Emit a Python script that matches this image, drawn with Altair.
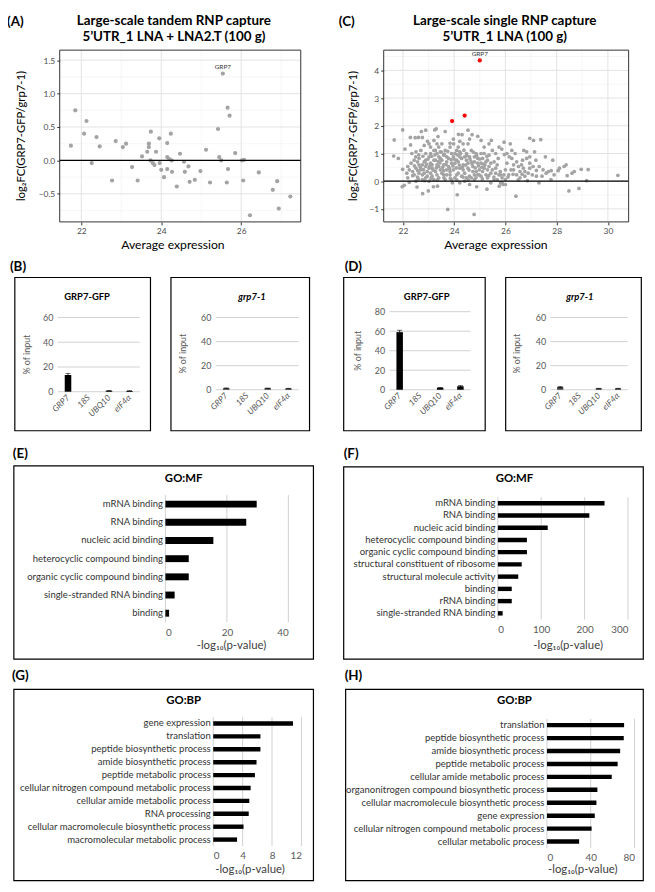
import altair as alt
import pandas as pd

# ---------------- data ----------------
A_X = [21.74, 21.85, 22.13, 22.07, 22.26, 22.38, 22.46, 22.77, 22.86, 23.04, 23.12, 23.27, 23.41,
       23.52, 23.65, 23.69, 23.69, 23.74, 23.73, 23.79, 23.83, 23.87, 23.95, 23.96, 24.00, 24.07,
       24.15, 24.15, 24.15, 24.20, 24.24, 24.26, 24.27, 24.39, 24.47, 24.57, 24.59, 24.68, 24.71,
       24.84, 24.98, 25.12, 25.22, 25.42, 25.54, 25.45, 25.50, 25.66, 25.71, 25.67, 25.64, 25.85,
       26.02, 26.07, 26.05, 26.22, 26.44, 26.79, 26.90, 26.94, 27.23]
A_Y = [0.22, 0.75, 0.59, 0.40, -0.04, 0.35, 0.21, -0.30, 0.29, 0.20, 0.25, -0.10, -0.30,
       0.06, 0.13, 0.25, 0.20, 0.43, 0.00, -0.04, -0.07, 0.13, 0.33, -0.04, -0.14, -0.25,
       0.26, 0.05, -0.13, 0.02, 0.40, 0.00, -0.17, -0.39, 0.10, -0.02, -0.17, -0.09, -0.32,
       -0.29, -0.16, 0.16, -0.33, 0.47, 1.30, 0.05, 0.00, 0.79, 0.67, -0.13, -0.33, 0.11,
       0.00, 0.01, -0.30, -0.82, -0.18, -0.44, -0.31, -0.72, -0.54]
A_LABEL_T = ["GRP7"]
A_LABEL_X = [25.54]
A_LABEL_Y = [1.30]

C_POINTS = [
    (21.66, 1.49), (21.99, 1.85), (21.64, 0.91), (21.82, 0.82), (21.99, 0.43), (21.97, -0.20),
    (22.05, -0.15), (22.08, 1.16), (22.29, 1.58), (22.30, 1.31), (22.48, 1.57), (22.61, 1.58),
    (22.72, 1.79), (22.89, 1.84), (22.76, 1.58), (22.96, 1.44), (23.30, 1.89), (23.24, 1.85),
    (23.65, 1.79), (23.37, 1.61), (22.55, -0.21), (22.77, -0.45), (22.99, -0.35), (23.19, -0.20),
    (23.35, -0.18), (23.75, -1.02), (24.12, -0.49), (24.78, -1.20), (24.88, -0.20), (25.28, -0.29),
    (26.41, -0.54), (24.54, 1.84), (24.70, 1.68), (24.92, 1.62), (24.17, 1.69), (24.31, 1.68),
    (24.22, 1.44), (23.98, 1.35), (23.84, 1.37), (25.45, 1.47), (25.36, 1.35), (25.17, 1.23),
    (25.95, 1.41), (26.19, 1.35), (25.86, 1.16), (25.96, 0.96), (26.95, 1.55), (27.10, 1.47),
    (27.38, 1.50), (26.72, 1.11), (26.83, 1.06), (27.14, 1.06), (27.56, 0.88), (27.85, 0.76),
    (26.95, 0.88), (26.67, 0.76), (27.19, 0.76), (27.32, 0.53), (27.47, 0.41), (27.68, 0.35),
    (27.79, 0.38), (27.78, 0.06), (28.06, 0.38), (28.11, 0.47), (28.29, 0.53), (28.37, 0.59),
    (28.41, 0.20), (28.48, -0.35), (28.60, 0.29), (28.69, 0.35), (28.87, -0.26), (28.96, 0.43),
    (29.17, 0.02), (29.23, 0.42), (30.39, 0.21), (26.86, 0.02), (26.57, 0.12), (26.32, 0.41),
    (26.44, 0.70), (26.95, 0.65), (27.21, 0.39), (27.05, 0.23), (26.89, 0.29), (26.76, 0.18),
    (27.31, -0.06), (27.43, 0.18), (25.91, -0.12), (25.81, -0.06), (25.76, -0.18), (26.00, 0.06),
    (26.13, 0.23), (26.22, 0.41), (26.06, 0.65), (26.15, 0.88), (25.72, 0.82), (25.56, 0.70),
    (25.62, 0.47), (25.43, 0.29), (25.30, 0.12), (25.05, 0.18), (25.17, 0.47), (25.11, 0.82),
    (24.79, 0.88), (24.67, 1.11), (24.48, 1.00), (24.29, 0.82), (24.35, 0.59), (24.54, 0.47),
    (24.73, 0.35), (24.92, 0.23), (24.16, 0.29), (24.03, 0.12), (23.93, -0.06), (23.84, 0.23),
    (23.71, 0.41), (23.59, 0.59), (23.46, 0.82), (23.33, 1.00), (23.21, 1.11), (23.08, 1.23),
    (23.02, 0.88), (22.89, 1.00), (22.83, 0.70), (22.63, 0.59), (22.51, 0.47), (22.38, 0.35),
    (22.25, 0.41), (22.15, 0.29), (22.19, 0.12), (22.38, 0.20), (22.57, 0.15), (22.76, 0.23),
    (22.95, 0.35), (23.14, 0.47), (23.33, 0.59), (23.52, 0.76), (23.71, 0.88), (23.90, 1.00),
    (24.10, 1.11), (23.14, 0.18), (23.40, 0.12), (23.65, 0.06), (23.02, 0.00), (23.27, 0.35),
    (23.52, 0.29), (23.78, 0.53), (24.03, 0.65), (24.22, 0.47), (24.41, 0.29), (24.60, 0.18),
    (24.79, 0.06), (24.98, 0.41), (25.05, 0.65), (25.24, 0.70), (25.36, 0.94), (25.49, 1.11),
    (24.67, 0.70), (24.48, 0.76), (24.35, 1.35), (24.16, 1.23), (23.97, 1.52), (23.52, 1.35),
    (23.40, 1.23), (23.21, 1.47), (23.02, 1.35), (22.83, 1.29), (22.70, 1.11), (22.51, 1.06),
    (22.35, 1.00), (22.44, 0.76), (22.63, 0.82), (22.89, 0.53), (23.08, 0.65), (23.21, 0.76),
    (23.40, 0.53), (23.59, 0.38), (24.41, 0.00), (24.22, -0.06), (24.60, -0.12), (23.90, 0.06),
    (22.76, 0.06), (22.51, 0.00), (22.25, -0.04), (25.75, 0.23), (25.87, 0.12), (25.56, 0.06),
    (25.43, -0.06), (26.44, 0.23), (26.57, 0.35), (26.70, 0.47), (26.83, 0.82), (26.38, 1.00),
    (26.25, 1.11), (26.00, 0.41), (25.68, 0.59), (25.30, 0.41), (24.92, 0.65), (24.86, 1.00),
    (25.05, 1.47), (24.22, 0.88), (24.10, 0.76), (23.90, 0.65), (23.71, 0.70), (23.84, 1.23),
    (23.65, 1.11), (24.54, 1.35), (24.60, 1.52), (25.17, 1.00),
    (22.70, 0.41), (22.83, 0.29), (22.95, 0.18), (23.08, 0.29), (23.21, 0.06), (23.33, 0.23),
    (23.46, 0.41), (23.59, 0.23), (23.71, 0.23), (23.02, 0.47), (23.14, 0.59), (23.27, 0.76),
    (23.40, 0.88), (23.59, 0.94), (23.78, 0.82), (23.97, 0.88), (24.16, 0.70), (24.35, 0.41),
    (24.54, 0.65), (24.73, 0.53), (24.86, 0.35), (24.98, 0.23), (25.11, 0.35), (25.24, 0.23),
    (25.36, 0.53), (25.49, 0.41), (25.62, 0.29), (25.68, 0.06), (25.81, 0.23), (25.94, 0.23),
    (26.00, -0.12), (25.87, -0.06), (24.79, 0.23), (24.67, 0.12), (24.48, 0.12), (24.29, 0.18),
    (24.10, 0.23), (23.97, 0.41), (23.84, 0.35), (22.89, 0.76), (22.76, 0.59), (22.57, 0.70),
    (22.32, 0.65), (22.19, 0.53), (22.44, 0.23), (22.63, 0.29), (22.89, 0.12), (23.08, 1.00),
    (23.27, 1.11), (23.46, 1.06), (23.33, 1.35), (24.03, 1.00), (24.22, 1.06), (24.41, 0.88),
    (24.60, 0.88), (24.79, 0.70), (24.92, 0.82), (25.05, 1.00), (25.30, 0.76), (25.43, 0.65),
    (25.62, 1.00), (25.75, 1.23), (26.06, 1.00), (26.25, 0.82), (26.32, 0.59), (26.51, 0.53),
    (26.63, 0.59), (26.76, 0.35), (26.95, 0.47), (27.08, 0.53), (27.21, 0.18), (27.59, 0.29),
    (27.90, 0.23),
    (22.45, 0.55), (22.58, 0.38), (22.68, 0.50), (22.80, 0.42), (22.92, 0.62), (23.05, 0.55),
    (23.18, 0.40), (23.30, 0.48), (23.44, 0.66), (23.55, 0.50), (23.68, 0.60), (23.82, 0.45),
    (23.95, 0.55), (24.08, 0.48), (24.20, 0.58), (24.32, 0.50), (24.45, 0.58), (24.58, 0.40),
    (24.70, 0.62), (24.82, 0.48), (24.95, 0.55), (25.08, 0.50), (25.20, 0.58), (22.50, 0.88),
    (22.62, 0.95), (22.78, 0.90), (22.98, 0.80), (23.12, 0.90), (23.25, 0.95), (23.38, 0.72),
    (23.50, 1.05), (23.62, 0.98), (23.75, 1.08), (23.88, 0.78), (24.00, 0.80), (24.12, 0.95),
    (24.25, 1.00), (24.38, 1.12), (24.50, 0.92), (24.62, 0.80), (24.75, 1.05), (24.88, 0.92),
    (25.00, 0.80), (25.15, 0.62), (25.28, 0.90), (22.60, 0.08), (22.85, 0.02), (23.10, 0.10),
    (23.35, 0.05), (23.60, 0.12), (23.85, 0.10), (24.10, 0.05), (24.35, 0.15), (24.55, 0.05),
    (24.85, 0.12), (25.10, 0.08), (25.35, 0.20), (25.55, 0.15), (25.80, 0.35), (26.10, 0.15),
    (26.30, 0.25), (26.50, 0.05), (26.65, 0.25),
]
C_HI_X = [25.00, 23.92, 24.41]
C_HI_Y = [4.36, 2.17, 2.37]
C_LABEL_T = ["GRP7"]
C_LABEL_X = [25.00]
C_LABEL_Y = [4.36]

QPCR_TARGETS = ["GRP7", "18S", "UBQ10", "eIF4\u03b1"]
B_GFP = [13.5, 0.0, 0.7, 0.6]
B_GFP_ERR = [1.3, 0.0, 0.2, 0.2]
B_MUT = [1.2, 0.0, 1.2, 1.0]
B_MUT_ERR = [0.3, 0.0, 0.2, 0.2]
D_GFP = [59.0, 0.0, 2.0, 3.5]
D_GFP_ERR = [2.0, 0.0, 0.4, 0.7]
D_MUT = [2.2, 0.0, 1.0, 1.0]
D_MUT_ERR = [0.4, 0.0, 0.2, 0.2]

E_TERMS = ["mRNA binding", "RNA binding", "nucleic acid binding", "heterocyclic compound binding",
           "organic cyclic compound binding", "single-stranded RNA binding", "binding"]
E_VALS = [29.7, 26.3, 15.6, 7.6, 7.6, 3.0, 1.2]
F_TERMS = ["mRNA binding", "RNA binding", "nucleic acid binding", "heterocyclic compound binding",
           "organic cyclic compound binding", "structural constituent of ribosome",
           "structural molecule activity", "binding", "rRNA binding", "single-stranded RNA binding"]
F_VALS = [246, 211, 115, 67, 67, 55, 47, 32, 32, 11]
G_TERMS = ["gene expression", "translation", "peptide biosynthetic process", "amide biosynthetic process",
           "peptide metabolic process", "cellular nitrogen compound metabolic process",
           "cellular amide metabolic process", "RNA processing",
           "cellular macromolecule biosynthetic process", "macromolecular metabolic process"]
G_VALS = [10.85, 6.42, 6.42, 5.89, 5.67, 5.09, 4.91, 4.83, 4.12, 3.24]
H_TERMS = ["translation", "peptide biosynthetic process", "amide biosynthetic process",
           "peptide metabolic process", "cellular amide metabolic process",
           "organonitrogen compound biosynthetic process", "cellular macromolecule biosynthetic process",
           "gene expression", "cellular nitrogen compound metabolic process", "cellular metabolic process"]
H_VALS = [70.5, 70.2, 66.9, 64.6, 59.2, 46.1, 45.2, 43.7, 40.8, 29.4]

# ---------------- layout ----------------
W, H = 645, 882
S = 0.985
FONT = "Lato"


def X(r):
    return round((r - 2) * S, 2)


def Y(r):
    return round(r * S, 2)


def one():
    return pd.DataFrame({"k": [0]})


def txt(s, rx, ry, size, weight="normal", style="normal", align="center", angle=0,
        color="black", baseline="alphabetic"):
    return alt.Chart(pd.DataFrame({"t": [s]})).mark_text(
        font=FONT, fontSize=size, fontWeight=weight, fontStyle=style, align=align,
        baseline=baseline, angle=angle, color=color
    ).encode(x=alt.value(X(rx)), y=alt.value(Y(ry)), text="t:N")


def frame(l, t, r, b, color="black", width=1.2):
    return alt.Chart(one()).mark_rect(filled=False, stroke=color, strokeWidth=width).encode(
        x=alt.value(X(l)), x2=alt.value(X(r)), y=alt.value(Y(t)), y2=alt.value(Y(b)))


def scatter_panel(df, hi_df, lab_df, box, xdom, ydom, xmaj, xmin, ymaj, ymin, yfmt, size, lab_dy):
    l, t, r, b = box
    xs = alt.Scale(domain=xdom, range=[X(l), X(r)], nice=False, zero=False)
    ys = alt.Scale(domain=ydom, range=[Y(b), Y(t)], nice=False, zero=False)
    xaxis = alt.Axis(orient="bottom", offset=Y(b) - H, values=xmaj, grid=False, domain=False,
                     ticks=True, tickSize=3, tickColor="#333333", tickWidth=1,
                     labelColor="#4d4d4d", labelFont=FONT, labelFontSize=8.5, labelPadding=2,
                     title=None)
    yaxis = alt.Axis(orient="left", offset=-X(l), values=ymaj, grid=False, domain=False,
                     ticks=True, tickSize=3, tickColor="#333333", tickWidth=1,
                     labelColor="#4d4d4d", labelFont=FONT, labelFontSize=8.5, labelPadding=2,
                     title=None,
                     labelExpr="replace(format(datum.value, '" + yfmt + "'), '-', '\u2212')")

    def vrule(vals, color, w):
        return alt.Chart(pd.DataFrame({"v": vals})).mark_rule(color=color, strokeWidth=w).encode(
            x=alt.X("v:Q", scale=xs, axis=xaxis), y=alt.value(Y(t)), y2=alt.value(Y(b)))

    def hrule(vals, color, w):
        return alt.Chart(pd.DataFrame({"v": vals})).mark_rule(color=color, strokeWidth=w).encode(
            y=alt.Y("v:Q", scale=ys, axis=yaxis), x=alt.value(X(l)), x2=alt.value(X(r)))

    layers = [
        vrule(xmin, "#f0f0f0", 0.6), hrule(ymin, "#f0f0f0", 0.6),
        vrule(xmaj, "#e3e3e3", 1), hrule(ymaj, "#e3e3e3", 1),
        alt.Chart(df).mark_circle(size=size, color="#a3a3a3", opacity=1).encode(
            x=alt.X("x:Q", scale=xs, axis=xaxis), y=alt.Y("y:Q", scale=ys, axis=yaxis)),
        hrule([0], "black", 1.3),
    ]
    if hi_df is not None:
        layers.append(alt.Chart(hi_df).mark_circle(size=size + 4, color="#ff0000", opacity=1).encode(
            x=alt.X("x:Q", scale=xs, axis=xaxis), y=alt.Y("y:Q", scale=ys, axis=yaxis)))
    layers.append(alt.Chart(lab_df).mark_text(font=FONT, fontSize=6.5, color="#333333", dy=lab_dy).encode(
        x=alt.X("x:Q", scale=xs, axis=xaxis), y=alt.Y("y:Q", scale=ys, axis=yaxis), text="t:N"))
    layers.append(frame(l, t, r, b, color="#333333", width=1))
    return alt.layer(*layers)


def bar_panel(vals, errs, plot, ymax, yvals, color):
    l, t, r, b = plot
    xs = alt.Scale(domain=QPCR_TARGETS, range=[X(l), X(r)], paddingInner=0.68, paddingOuter=0.34)
    ys = alt.Scale(domain=[0, ymax], range=[Y(b), Y(t)], nice=False, zero=True)
    df = pd.DataFrame({"c": QPCR_TARGETS, "v": vals, "e": errs})
    df["lo"] = df["v"] - df["e"]
    df["hi"] = df["v"] + df["e"]
    err = df[df["e"] > 0]
    xaxis = alt.Axis(orient="bottom", offset=Y(b) - H, domain=False, ticks=False, grid=False,
                     labelAngle=315, labelAlign="right", labelBaseline="middle",
                     labelFontStyle="italic", labelColor="#595959", labelFont=FONT,
                     labelFontSize=8.5, labelPadding=4, title=None)
    yaxis = alt.Axis(orient="left", offset=-X(l), values=yvals, domain=False, ticks=False,
                     grid=False, labelColor="#595959", labelFont=FONT, labelFontSize=9,
                     labelPadding=5, title=None)
    grid = alt.Chart(pd.DataFrame({"v": yvals})).mark_rule(
        color="#d0d0d0", strokeWidth=1).encode(
        y=alt.Y("v:Q", scale=ys, axis=yaxis), x=alt.value(X(l)), x2=alt.value(X(r)))
    bars = alt.Chart(df).mark_bar(color=color).encode(
        x=alt.X("c:N", scale=xs, axis=xaxis), y=alt.Y("v:Q", scale=ys, axis=yaxis))
    rules = alt.Chart(err).mark_rule(color="black", strokeWidth=0.8).encode(
        x=alt.X("c:N", scale=xs, axis=xaxis), y=alt.Y("lo:Q", scale=ys, axis=yaxis), y2="hi:Q")
    caps = alt.Chart(err).transform_fold(["lo", "hi"], as_=["k", "w"]).mark_tick(
        color="black", thickness=0.8, size=5).encode(
        x=alt.X("c:N", scale=xs, axis=xaxis), y=alt.Y("w:Q", scale=ys, axis=yaxis))
    return alt.layer(grid, bars, rules, caps)


def go_panel(terms, vals, plot, xmax, xvals, pad):
    l, t, r, b = plot
    xs = alt.Scale(domain=[0, xmax], range=[X(l), X(r)], nice=False, zero=True)
    ys = alt.Scale(domain=terms, range=[Y(t), Y(b)], paddingInner=pad, paddingOuter=pad / 2)
    df = pd.DataFrame({"c": terms, "v": vals})
    xaxis = alt.Axis(orient="bottom", offset=Y(b) - H, values=xvals, domain=False, ticks=False,
                     grid=False, labelColor="#595959", labelFont=FONT, labelFontSize=10,
                     labelPadding=5, title=None)
    yaxis = alt.Axis(orient="left", offset=-X(l), domain=False, ticks=False, grid=False,
                     labelColor="#333333", labelFont=FONT, labelFontSize=9.6, labelPadding=3,
                     labelLimit=0, title=None)
    grid = alt.Chart(pd.DataFrame({"v": xvals})).mark_rule(
        color="#d0d0d0", strokeWidth=1).encode(
        x=alt.X("v:Q", scale=xs, axis=xaxis), y=alt.value(Y(t)), y2=alt.value(Y(b)))
    bars = alt.Chart(df).mark_bar(color="black").encode(
        x=alt.X("v:Q", scale=xs, axis=xaxis), y=alt.Y("c:N", scale=ys, axis=yaxis))
    return alt.layer(grid, bars)


# ---------------- panels ----------------
a_df = pd.DataFrame({"x": A_X, "y": A_Y})
a_lab = pd.DataFrame({"x": A_LABEL_X, "y": A_LABEL_Y, "t": A_LABEL_T})
c_df = pd.DataFrame({"x": [p[0] for p in C_POINTS], "y": [p[1] for p in C_POINTS]})
c_hi = pd.DataFrame({"x": C_HI_X, "y": C_HI_Y})
c_lab = pd.DataFrame({"x": C_LABEL_X, "y": C_LABEL_Y, "t": C_LABEL_T})

panel_a = scatter_panel(a_df, None, a_lab, (55, 39, 302, 215), [21.46, 27.49], [-0.92, 1.65],
                        [22, 24, 26], [23, 25, 27], [-0.5, 0, 0.5, 1.0, 1.5],
                        [-0.75, -0.25, 0.25, 0.75, 1.25], ".1f", 18, -7)
panel_c = scatter_panel(c_df, c_hi, c_lab, (387, 39, 638, 215), [21.25, 30.81], [-1.47, 4.73],
                        [22, 24, 26, 28, 30], [23, 25, 27, 29], [-1, 0, 1, 2, 3, 4],
                        [-0.5, 0.5, 1.5, 2.5, 3.5, 4.5], "d", 14, -6)

panel_b1 = bar_panel(B_GFP, B_GFP_ERR, (53, 313, 137, 389), 60, [0, 20, 40, 60], "black")
panel_b2 = bar_panel(B_MUT, B_MUT_ERR, (215, 313, 300, 387), 60, [0, 20, 40, 60], "#404040")
panel_d1 = bar_panel(D_GFP, D_GFP_ERR, (393, 307, 476, 387), 80, [0, 20, 40, 60, 80], "black")
panel_d2 = bar_panel(D_MUT, D_MUT_ERR, (558, 313, 637, 387), 60, [0, 20, 40, 60], "#404040")

panel_e = go_panel(E_TERMS, E_VALS, (163.3, 494.9, 289.3, 625.3), 40, [0, 20, 40], 0.62)
panel_f = go_panel(F_TERMS, F_VALS, (504, 497.0, 637.3, 622.4), 300, [0, 100, 200, 300], 0.64)
panel_g = go_panel(G_TERMS, G_VALS, (212.3, 722.4, 302.7, 854.6), 12, [0, 4, 8, 12], 0.66)
panel_h = go_panel(H_TERMS, H_VALS, (554.3, 724.1, 644, 856.6), 80, [0, 40, 80], 0.66)

boxes = [
    frame(9, 272, 148, 429), frame(169, 272, 311, 429),
    frame(346, 272, 491, 429), frame(512, 272, 651, 429),
    frame(8, 465, 315, 663), frame(346, 466, 653, 663),
    frame(8, 694, 315, 890), frame(348, 694, 653, 890),
]

LOG = "-log\u2081\u2080(p-value)"
texts = [
    txt("(A)", 1, 14, 13.5, "bold", align="left"),
    txt("(C)", 341, 14, 13.5, "bold", align="left"),
    txt("(B)", 4, 265, 13.5, "bold", align="left"),
    txt("(D)", 347, 265, 13.5, "bold", align="left"),
    txt("(E)", 7, 457, 13.5, "bold", align="left"),
    txt("(F)", 346, 457, 13.5, "bold", align="left"),
    txt("(G)", 6, 684, 13.5, "bold", align="left"),
    txt("(H)", 347, 684, 13.5, "bold", align="left"),
    txt("Large-scale tandem RNP capture", 172, 13.5, 13.5, "bold"),
    txt("5\u2019UTR_1 LNA + LNA2.T (100 g)", 172, 30, 13.5, "bold"),
    txt("Large-scale single RNP capture", 511, 13.5, 13.5, "bold"),
    txt("5\u2019UTR_1 LNA (100 g)", 511, 30, 13.5, "bold"),
    txt("Average expression", 171, 243, 12.3),
    txt("Average expression", 502, 243, 12.3),
    txt("log\u2082FC(GRP7-GFP/grp7-1)", 16, 127, 11.4, angle=270, baseline="middle"),
    txt("log\u2082FC(GRP7-GFP/grp7-1)", 357, 127, 11.4, angle=270, baseline="middle"),
    txt("GRP7-GFP", 83, 295, 9.5, "bold"),
    txt("grp7-1", 252, 295, 9.5, "bold", "italic"),
    txt("GRP7-GFP", 431, 295, 9.5, "bold"),
    txt("grp7-1", 588, 295, 9.5, "bold", "italic"),
    txt("% of input", 21, 351, 9, angle=270, baseline="middle", color="#595959"),
    txt("% of input", 181, 350, 9, angle=270, baseline="middle", color="#595959"),
    txt("% of input", 361, 347, 9, angle=270, baseline="middle", color="#595959"),
    txt("% of input", 524, 350, 9, angle=270, baseline="middle", color="#595959"),
    txt("GO:MF", 182, 482, 11.5, "bold"),
    txt("GO:MF", 521, 482, 11.5, "bold"),
    txt("GO:BP", 182, 709, 11.5, "bold"),
    txt("GO:BP", 521, 709, 11.5, "bold"),
    txt(LOG, 231, 653, 11.5, color="#404040"),
    txt(LOG, 576, 653, 11.5, color="#404040"),
    txt(LOG, 250, 882, 11.5, color="#404040"),
    txt(LOG, 591, 882, 11.5, color="#404040"),
]

chart = alt.layer(
    panel_a, panel_c, panel_b1, panel_b2, panel_d1, panel_d2,
    panel_e, panel_f, panel_g, panel_h, *boxes, *texts
).resolve_scale(x="independent", y="independent").resolve_axis(
    x="independent", y="independent"
).properties(
    width=W, height=H, autosize=alt.AutoSizeParams(type="none"), padding=0
).configure_view(strokeWidth=0)

chart.save("out.html", embed_options={"renderer": "svg", "actions": False})
